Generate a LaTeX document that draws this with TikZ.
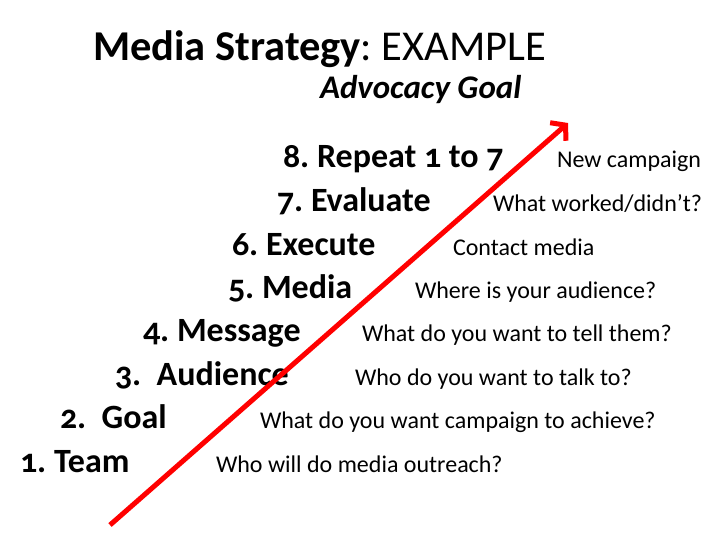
\documentclass[tikz,border=0pt]{standalone}
\usepackage{fontspec}
\setmainfont{Carlito}[Numbers=OldStyle]
\usetikzlibrary{arrows.meta}
\frenchspacing
\begin{document}
\begin{tikzpicture}[x=1pt, y=-1pt, inner sep=0pt, outer sep=0pt,
  step node/.style={anchor=base west, font=\fontsize{34}{38}\selectfont\bfseries},
  note node/.style={anchor=base west, font=\fontsize{24}{27}\selectfont},
  big arrow/.style={draw=red, line width=5pt, -{Straight Barb[length=10pt,width=24pt]}}]
\useasboundingbox (0,0) rectangle (728,546);
\begin{scope}
\node[anchor=base west, font=\fontsize{42.5}{46}\selectfont] (title) at (93,60) {\textbf{Media Strategy}: EXAMPLE};
\node[anchor=base west, font=\fontsize{33}{36}\selectfont\bfseries\itshape] (goal) at (320,98) {Advocacy Goal};
\end{scope}
\begin{scope}
\node[step node] (s8) at (283,167) {8. Repeat 1 to 7};
\node[step node] (s7) at (277,211) {7. Evaluate};
\node[step node] (s6) at (232,255) {6. Execute};
\node[step node] (s5) at (228,298) {5. Media};
\node[step node] (s4) at (143,341) {4. Message};
\node[step node] (s3) at (115,385) {3.\ \ Audience};
\node[step node] (s2) at (60,428) {2.\ \ Goal};
\node[step node] (s1) at (20,472) {1. Team};
%
\node[note node] (n8) at (557,167) {New campaign};
\node[note node] (n7) at (493,211) {What worked/didn’t?};
\node[note node] (n6) at (453,255) {Contact media};
\node[note node] (n5) at (415,298) {Where is your audience?};
\node[note node] (n4) at (362,341) {What do you want to tell them?};
\node[note node] (n3) at (355,385) {Who do you want to talk to?};
\node[note node] (n2) at (260,428) {What do you want campaign to achieve?};
\node[note node] (n1) at (216,472) {Who will do media outreach?};
\end{scope}
\begin{scope}
\coordinate (tail) at (110,525);
\coordinate (head) at (568,123);
\draw[big arrow] (tail) -- (head);
\end{scope}
\end{tikzpicture}
\end{document}
